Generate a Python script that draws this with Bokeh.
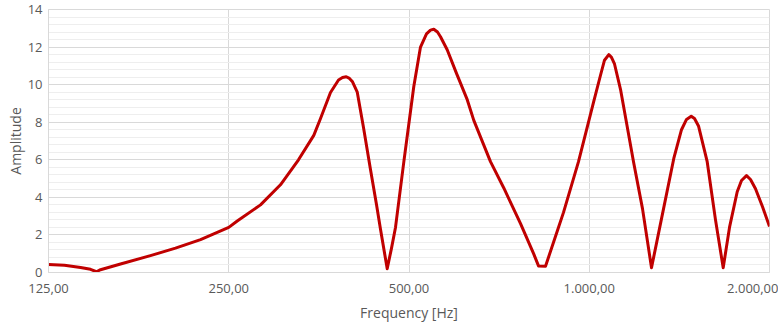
from bokeh.plotting import figure
from bokeh.models import FixedTicker, SingleIntervalTicker, Range1d
from bokeh.embed import file_html
from bokeh.resources import INLINE

# Frequency [Hz] and amplitude
freq = [125.0, 132.9, 141.4, 146.9, 150.3, 152.7, 164.9, 185.0, 203.7, 224.3,
        250.0, 258.3, 282.5, 305.0, 326.9, 346.7, 355.8, 369.7, 381.3, 387.2,
        392.8, 397.7, 402.4, 409.8, 419.8, 431.1, 441.3, 448.1, 459.8, 467.5,
        474.7, 490.2, 509.3, 522.6, 534.8, 543.1, 550.0, 557.9, 564.4, 579.1,
        600.2, 625.5, 641.5, 684.0, 719.9, 767.8, 808.0, 822.7, 845.2, 884.1,
        905.8, 959.5, 1016.5, 1044.2, 1060.4, 1078.1, 1089.3, 1102.0, 1127.7, 1185.5,
        1227.2, 1270.5, 1315.2, 1384.2, 1425.8, 1453.5, 1480.0, 1498.9, 1522.1, 1573.9,
        1625.0, 1673.8, 1714.9, 1766.5, 1795.9, 1830.8, 1859.2, 1895.2, 1947.0, 2000.0]
amplitude = [0.42, 0.38, 0.27, 0.17, 0.04, 0.15, 0.45, 0.9, 1.3, 1.75,
             2.4, 2.74, 3.6, 4.67, 6.0, 7.3, 8.2, 9.58, 10.25, 10.38,
             10.42, 10.33, 10.15, 9.6, 7.7, 5.5, 3.6, 2.3, 0.2, 1.3,
             2.4, 5.9, 9.9, 12.0, 12.7, 12.9, 12.95, 12.8, 12.55, 11.86,
             10.6, 9.2, 8.1, 5.9, 4.5, 2.6, 0.98, 0.35, 0.33, 2.2,
             3.2, 5.9, 9.05, 10.5, 11.3, 11.6, 11.45, 11.1, 9.75, 5.9,
             3.4, 0.25, 2.6, 6.07, 7.6, 8.15, 8.32, 8.2, 7.8, 5.9,
             2.8, 0.25, 2.4, 4.3, 4.9, 5.16, 4.95, 4.46, 3.5, 2.45]

x_ticks = [125, 250, 500, 1000, 2000]
x_tick_labels = ["125,00", "250,00", "500,00", "1.000,00", "2.000,00"]

FONT = "Open Sans"
TEXT = "#595959"
GRID = "#d9d9d9"

p = figure(width=778, height=325, x_axis_type="log",
           x_range=Range1d(125, 2000), y_range=Range1d(0, 14),
           output_backend="svg", toolbar_location=None,
           min_border_left=48, min_border_right=9, min_border_top=9, min_border_bottom=53)

p.line(freq, amplitude, line_color="#C00000", line_width=3, line_join="round")

p.xaxis.ticker = FixedTicker(ticks=x_ticks, minor_ticks=[])
p.xaxis.major_label_overrides = {float(t): l for t, l in zip(x_ticks, x_tick_labels)}
p.yaxis.ticker = SingleIntervalTicker(interval=2, num_minor_ticks=5)

for ax in (p.xaxis, p.yaxis):
    ax.axis_line_color = GRID
    ax.major_tick_line_color = None
    ax.minor_tick_line_color = None
    ax.major_tick_out = 0
    ax.major_tick_in = 0
    ax.minor_tick_out = 0
    ax.minor_tick_in = 0
    ax.major_label_text_font = FONT
    ax.major_label_text_font_size = "13px"
    ax.major_label_text_color = TEXT
    ax.axis_label_text_font = FONT
    ax.axis_label_text_font_size = "14px"
    ax.axis_label_text_color = TEXT
    ax.axis_label_text_font_style = "normal"

p.xaxis.axis_label = "Frequency [Hz]"
p.yaxis.axis_label = "Amplitude"
p.xaxis.major_label_standoff = 11
p.xaxis.axis_label_standoff = 7
p.yaxis.major_label_standoff = 6
p.yaxis.axis_label_standoff = 0

p.xgrid.grid_line_color = GRID
p.ygrid.grid_line_color = GRID
p.ygrid.minor_grid_line_color = "#eeeeee"
p.outline_line_color = GRID
p.background_fill_color = "white"
p.border_fill_color = "white"

open("out.html", "w").write(file_html(p, INLINE))
